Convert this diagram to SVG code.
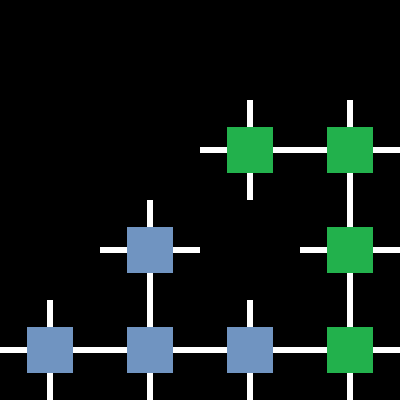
<svg xmlns="http://www.w3.org/2000/svg" width="400" height="400" viewBox="0 0 400 400">
  <style>
    .wire { stroke: #ffffff; stroke-width: 6; fill: none; }
    .green { fill: #22b14c; }
    .blue { fill: #7094c1; }
  </style>
  <defs>
    <rect id="cell" x="-23" y="-23" width="46" height="46"/>
  </defs>
  <rect x="0" y="0" width="400" height="400" fill="#000000"/>
  <g id="connectors">
    <!-- horizontal runs -->
    <line class="wire" x1="200" y1="150" x2="400" y2="150"/>
    <line class="wire" x1="100" y1="250" x2="200" y2="250"/>
    <line class="wire" x1="300" y1="250" x2="400" y2="250"/>
    <line class="wire" x1="0" y1="350" x2="400" y2="350"/>
    <!-- vertical runs -->
    <line class="wire" x1="250" y1="100" x2="250" y2="200"/>
    <line class="wire" x1="350" y1="100" x2="350" y2="400"/>
    <line class="wire" x1="150" y1="200" x2="150" y2="400"/>
    <line class="wire" x1="50" y1="300" x2="50" y2="400"/>
    <line class="wire" x1="250" y1="300" x2="250" y2="400"/>
  </g>
  <g id="n-250-150"><use href="#cell" class="green" x="250" y="150"/></g>
  <g id="n-350-150"><use href="#cell" class="green" x="350" y="150"/></g>
  <g id="n-150-250"><use href="#cell" class="blue" x="150" y="250"/></g>
  <g id="n-350-250"><use href="#cell" class="green" x="350" y="250"/></g>
  <g id="n-50-350"><use href="#cell" class="blue" x="50" y="350"/></g>
  <g id="n-150-350"><use href="#cell" class="blue" x="150" y="350"/></g>
  <g id="n-250-350"><use href="#cell" class="blue" x="250" y="350"/></g>
  <g id="n-350-350"><use href="#cell" class="green" x="350" y="350"/></g>
</svg>
